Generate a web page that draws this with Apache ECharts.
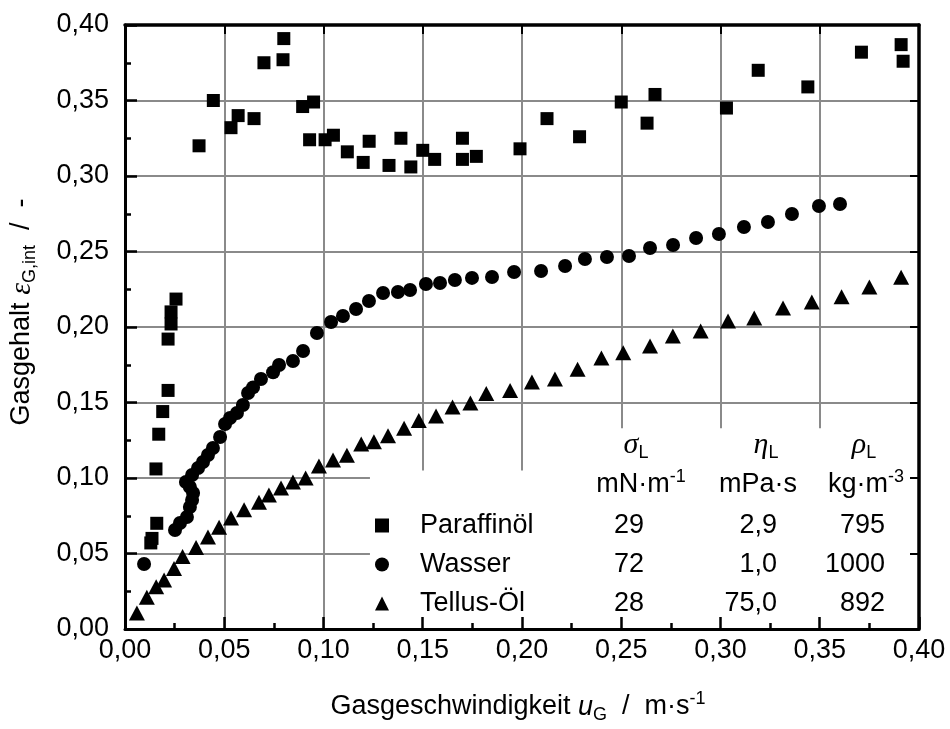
<!DOCTYPE html>
<html>
<head>
<meta charset="utf-8">
<script src="https://cdn.jsdelivr.net/npm/echarts@6/dist/echarts.min.js"></script>
<style>
html, body { margin: 0; padding: 0; background: #fff; }
#chart { width: 950px; height: 729px; }
</style>
</head>
<body>
<div id="chart"></div>
<script>
const FONT = '"Liberation Sans", Arial, sans-serif'
const SERIF = '"Liberation Serif", "Times New Roman", serif'

// axis range and ticks
const xMin = 0, xMax = 0.4, xStep = 0.05
const yMin = 0, yMax = 0.4, yStep = 0.05

// legend table
const seriesNames = ["Paraffinöl", "Wasser", "Tellus-Öl"]
const sigmaL = ["29", "72", "28"]
const etaL = ["2,9", "1,0", "75,0"]
const rhoL = ["795", "1000", "892"]

// [u_G, eps_G,int]
const paraffinoel = [
	[0.0130, 0.057], [0.0136, 0.060], [0.0160, 0.070], [0.0156, 0.106], [0.0170, 0.129],
	[0.0190, 0.144], [0.0217, 0.158], [0.0217, 0.192], [0.0232, 0.202], [0.0232, 0.210],
	[0.0257, 0.2185], [0.0373, 0.320], [0.0445, 0.350], [0.0534, 0.332], [0.0570, 0.340],
	[0.0650, 0.338], [0.0700, 0.375], [0.0796, 0.377], [0.0800, 0.391], [0.0895, 0.346],
	[0.0930, 0.324], [0.0950, 0.349], [0.1008, 0.324], [0.1050, 0.327], [0.1120, 0.316],
	[0.1200, 0.309], [0.1230, 0.323], [0.1330, 0.307], [0.1390, 0.325], [0.1440, 0.306],
	[0.1500, 0.317], [0.1560, 0.311], [0.1700, 0.325], [0.1700, 0.311], [0.1770, 0.313],
	[0.1990, 0.318], [0.2126, 0.338], [0.2290, 0.326], [0.2500, 0.349], [0.2630, 0.335],
	[0.2670, 0.354], [0.3030, 0.345], [0.3190, 0.370], [0.3440, 0.359], [0.3710, 0.382],
	[0.3910, 0.387], [0.3920, 0.376]
]
const wasser = [
	[0.0096, 0.043], [0.0252, 0.0656], [0.0277, 0.0702], [0.0312, 0.0742], [0.0327, 0.0808],
	[0.0338, 0.0854], [0.0343, 0.0901], [0.0327, 0.0940], [0.0307, 0.0974], [0.0338, 0.1020],
	[0.0368, 0.1066], [0.0393, 0.1106], [0.0418, 0.1152], [0.0443, 0.1199], [0.0479, 0.1272],
	[0.0504, 0.1358], [0.0529, 0.1397], [0.0564, 0.1430], [0.0594, 0.1483], [0.0620, 0.1563],
	[0.0645, 0.1600], [0.0685, 0.1656], [0.0746, 0.1700], [0.0776, 0.1748], [0.0846, 0.1775],
	[0.0897, 0.1841], [0.0967, 0.1960], [0.1038, 0.2033], [0.1098, 0.2073], [0.1164, 0.2119],
	[0.1229, 0.2172], [0.1300, 0.2225], [0.1375, 0.2232], [0.1436, 0.2245], [0.1516, 0.2285],
	[0.1587, 0.2291], [0.1662, 0.2311], [0.1748, 0.2325], [0.1849, 0.2331], [0.1960, 0.2364],
	[0.2096, 0.2371], [0.2217, 0.2404], [0.2317, 0.2450], [0.2428, 0.2464], [0.2539, 0.2470],
	[0.2645, 0.2523], [0.2761, 0.2543], [0.2877, 0.2589], [0.2992, 0.2616], [0.3118, 0.2662],
	[0.3239, 0.2695], [0.3360, 0.2748], [0.3496, 0.2801], [0.3602, 0.2815]
]
const tellusOel = [
	[0.0060, 0.0106], [0.0110, 0.0210], [0.0157, 0.0280], [0.0197, 0.0325], [0.0247, 0.0400],
	[0.0290, 0.0480], [0.0358, 0.0540], [0.0418, 0.0610], [0.0474, 0.0674], [0.0534, 0.0735],
	[0.0600, 0.0790], [0.0675, 0.0840], [0.0725, 0.0887], [0.0786, 0.0934], [0.0846, 0.0974],
	[0.0910, 0.1000], [0.0977, 0.1080], [0.1048, 0.1120], [0.1118, 0.1150], [0.1190, 0.1225],
	[0.1254, 0.1240], [0.1325, 0.1280], [0.1406, 0.1330], [0.1480, 0.1380], [0.1567, 0.1410],
	[0.1650, 0.1470], [0.1740, 0.1497], [0.1820, 0.1560], [0.1940, 0.1580], [0.2050, 0.1636],
	[0.2166, 0.1655], [0.2280, 0.1720], [0.2400, 0.1795], [0.2510, 0.1830], [0.2645, 0.1874],
	[0.2760, 0.1940], [0.2900, 0.1974], [0.3038, 0.2040], [0.3170, 0.2060], [0.3315, 0.2126],
	[0.3460, 0.2166], [0.3610, 0.2200], [0.3750, 0.2265], [0.3910, 0.2330]
]

// corners of the white box behind the table (data units)
const tableLow = [0.1234, 0.105]
const tableHigh = [0.20, 0.133]

const fmt = v => v.toFixed(2).replace(".", ",")

const chart = echarts.init(document.getElementById("chart"))

const lineStyle = { color: "#000", width: 3 }
const gridColor = "#8a8a8a"

const mainAxis = (pos, type) => ({
	type: "value",
	position: pos,
	min: type === "x" ? xMin : yMin,
	max: type === "x" ? xMax : yMax,
	interval: type === "x" ? xStep : yStep,
	z: 5,
	axisLine: { show: true, onZero: false, lineStyle: lineStyle },
	axisTick: { show: true, inside: true, length: 12, lineStyle: { color: "#000", width: 2.5 } },
	minorTick: { show: true, splitNumber: 2, length: 6, lineStyle: { color: "#000", width: 2.5 } },
	axisLabel: {
		show: true,
		color: "#000",
		fontFamily: FONT,
		fontSize: 27,
		margin: type === "x" ? 8 : 16,
		formatter: fmt
	},
	splitLine: { show: false }
})

const frameAxis = (pos, type) => ({
	type: "value",
	position: pos,
	min: type === "x" ? xMin : yMin,
	max: type === "x" ? xMax : yMax,
	interval: type === "x" ? xStep : yStep,
	z: 5,
	axisLine: { show: true, onZero: false, lineStyle: { color: "#000", width: 3.5 } },
	axisTick: { show: true, inside: true, length: 9, lineStyle: { color: "#000", width: 2 } },
	axisLabel: { show: false },
	splitLine: { show: false }
})

const splitAxis = (pos, type) => ({
	type: "value",
	position: pos,
	min: type === "x" ? xMin : yMin,
	max: type === "x" ? xMax : yMax,
	interval: type === "x" ? xStep : yStep,
	z: 0,
	axisLine: { show: false },
	axisTick: { show: false },
	axisLabel: { show: false },
	splitLine: { show: true, lineStyle: { color: gridColor, width: 2 } }
})

const sub = { fontFamily: FONT, fontSize: 18, lineHeight: 12, verticalAlign: "bottom", fill: "#000" }
const sup = { fontFamily: FONT, fontSize: 18, lineHeight: 12, verticalAlign: "top", fill: "#000" }
const txt = { fontFamily: FONT, fontSize: 27, lineHeight: 34, fill: "#000" }
const greek = { fontFamily: SERIF, fontStyle: "italic", fontSize: 30, lineHeight: 34, fill: "#000" }
const rich = { t: txt, g: greek, s: sub, p: sup, u: { fontFamily: FONT, fontStyle: "italic", fontSize: 27, lineHeight: 34, fill: "#000" } }

const textEl = (x, y, text, extra) => Object.assign({
	type: "text",
	x: x,
	y: y,
	z: 10,
	style: { text: text, align: "center", verticalAlign: "middle", rich: rich, fill: "#000" }
}, extra || {})

const option = {
	backgroundColor: "#fff",
	animation: false,
	grid: { left: 125, right: 31, top: 25, bottom: 100 },
	xAxis: [mainAxis("bottom", "x"), frameAxis("top", "x"), splitAxis("bottom", "x")],
	yAxis: [mainAxis("left", "y"), frameAxis("right", "y"), splitAxis("left", "y")],
	legend: {
		data: seriesNames,
		orient: "vertical",
		left: 370,
		top: 507,
		itemWidth: 14,
		itemHeight: 14,
		itemGap: 12,
		z: 8,
		textStyle: {
			color: "#000",
			fontFamily: FONT,
			fontSize: 27,
			rich: {
				sp: { width: 26, fontSize: 27, fontFamily: FONT, lineHeight: 30 },
				n: { width: 190, fontSize: 27, fontFamily: FONT, lineHeight: 30, color: "#000" },
				s: { width: 34, align: "right", fontSize: 27, fontFamily: FONT, lineHeight: 30, color: "#000" },
				e: { width: 133, align: "right", fontSize: 27, fontFamily: FONT, lineHeight: 30, color: "#000" },
				r: { width: 108, align: "right", fontSize: 27, fontFamily: FONT, lineHeight: 30, color: "#000" }
			}
		},
		formatter: function (name) {
			const i = seriesNames.indexOf(name)
			return "{sp| }{n|" + name + "}{s|" + sigmaL[i] + "}{e|" + etaL[i] + "}{r|" + rhoL[i] + "}"
		}
	},
	series: [
		{
			name: seriesNames[0],
			type: "scatter",
			symbol: "rect",
			symbolSize: 13,
			itemStyle: { color: "#000", opacity: 1 },
			data: paraffinoel
		},
		{
			name: seriesNames[1],
			type: "scatter",
			symbol: "circle",
			symbolSize: 14,
			itemStyle: { color: "#000", opacity: 1 },
			data: wasser
		},
		{
			name: seriesNames[2],
			type: "scatter",
			symbol: "triangle",
			symbolSize: [16, 15],
			itemStyle: { color: "#000", opacity: 1 },
			data: tellusOel
		}
	]
}

chart.setOption(option)

// white box covering the grid behind the table, then the table headers and axis titles
const pLow = chart.convertToPixel({ xAxisIndex: 0, yAxisIndex: 0 }, tableLow)
const pHigh = chart.convertToPixel({ xAxisIndex: 0, yAxisIndex: 0 }, tableHigh)
const pEnd = chart.convertToPixel({ xAxisIndex: 0, yAxisIndex: 0 }, [xMax, yMin])

chart.setOption({
	graphic: [
		{ type: "rect", z: 1, shape: { x: pLow[0], y: pLow[1], width: pEnd[0] - pLow[0] - 1, height: pEnd[1] - pLow[1] - 1 }, style: { fill: "#fff" } },
		{ type: "rect", z: 1, shape: { x: pHigh[0] + 1, y: pHigh[1], width: pEnd[0] - pHigh[0] - 2, height: pLow[1] - pHigh[1] + 1 }, style: { fill: "#fff" } },
		textEl(636, 445, "{g|σ}{s|L}"),
		textEl(766, 445, "{g|η}{s|L}"),
		textEl(864, 445, "{g|ρ}{s|L}"),
		textEl(641, 485, "{t|mN·m}{p|-1}"),
		textEl(758, 485, "{t|mPa·s}"),
		textEl(866, 485, "{t|kg·m}{p|-3}"),
		textEl(22, 312, "{t|Gasgehalt }{g|ε}{s|G,int}{t|  /  -}", { rotation: Math.PI / 2 }),
		textEl(518, 707, "{t|Gasgeschwindigkeit }{u|u}{s|G}{t|  /  m·s}{p|-1}")
	]
})
</script>
</body>
</html>
